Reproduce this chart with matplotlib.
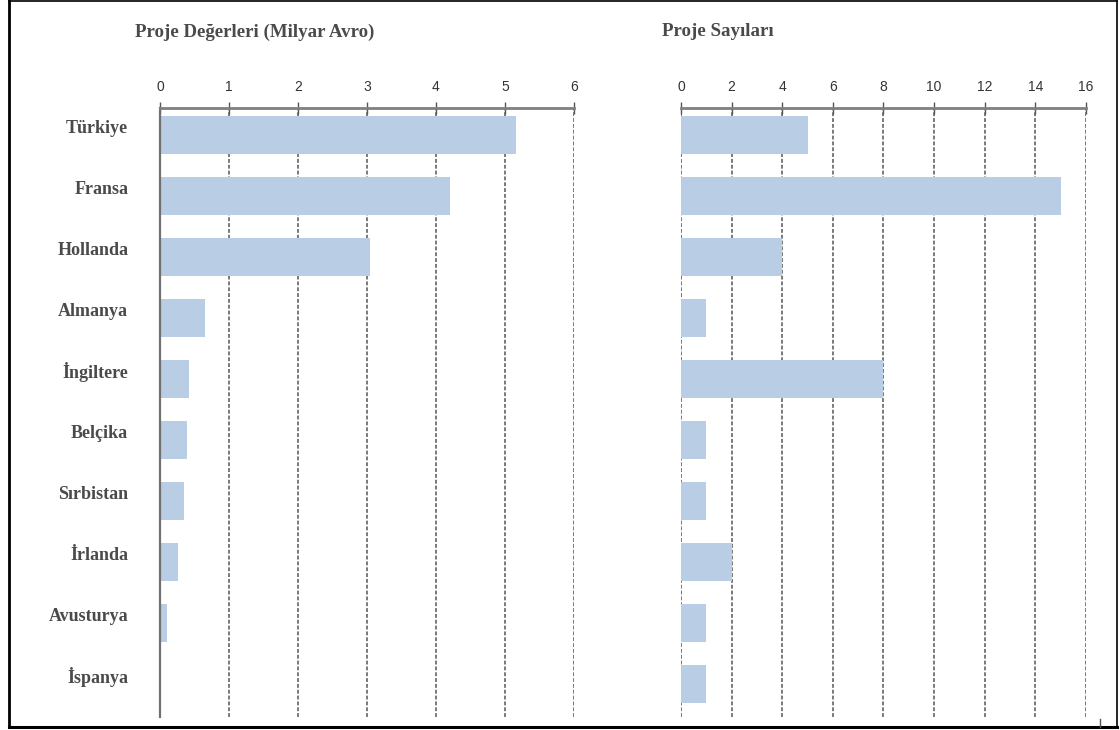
import matplotlib.pyplot as plt
import numpy as np

countries = ["Türkiye", "Fransa", "Hollanda", "Almanya", "İngiltere",
             "Belçika", "Sırbistan", "İrlanda", "Avusturya", "İspanya"]
values_bn_eur = [5.16, 4.20, 3.04, 0.65, 0.42, 0.39, 0.35, 0.26, 0.10, 0.0]
project_counts = [5, 15, 4, 1, 8, 1, 1, 2, 1, 1]

value_ticks = [0, 1, 2, 3, 4, 5, 6]
count_ticks = [0, 2, 4, 6, 8, 10, 12, 14, 16]

BAR = "#b9cde5"
GRID = "#7a7a7a"
TEXT = "#4a4a4a"
serif = ["Liberation Serif", "DejaVu Serif"]
narrow = ["Liberation Sans Narrow", "Liberation Sans", "DejaVu Sans"]

fig = plt.figure(figsize=(11.2, 7.3), dpi=100)

ax1 = fig.add_axes([160 / 1120, 1 - 717 / 730, 414 / 1120, 609 / 730])
ax2 = fig.add_axes([681 / 1120, 1 - 717 / 730, 405 / 1120, 609 / 730])

y = np.arange(len(countries))


def style_panel(ax, vals, ticks, solid_left):
    ax.barh(y, vals, height=0.62, color=BAR, zorder=2)
    ax.set_xlim(ticks[0], ticks[-1])
    ax.set_ylim(9.54, -0.44)
    ax.xaxis.tick_top()
    ax.set_xticks(ticks)
    ax.set_xticklabels([str(t) for t in ticks], family=narrow,
                       fontsize=10, color="#333333")
    ax.tick_params(axis="x", direction="inout", length=8, width=1,
                   color="#555555", pad=6)
    ax.set_yticks([])
    for t in ticks[1:] if solid_left else ticks:
        ax.axvline(t, color=GRID, lw=1.4, ls=(0, (2, 1)), zorder=1)
    for side in ("right", "bottom"):
        ax.spines[side].set_visible(False)
    ax.spines["top"].set_color("#808080")
    ax.spines["top"].set_linewidth(2)
    if solid_left:
        ax.spines["left"].set_color("#707070")
        ax.spines["left"].set_linewidth(1.6)
    else:
        ax.spines["left"].set_visible(False)
    ax.set_facecolor("none")


style_panel(ax1, values_bn_eur, value_ticks, True)
style_panel(ax2, project_counts, count_ticks, False)

# country names sit a little above the bar centres
for i, name in enumerate(countries):
    ax1.text(-0.46, i - 0.11, name, ha="right", va="center", family=serif,
             fontweight="bold", fontsize=13, color=TEXT)

fig.text(135 / 1120, 1 - 32 / 730, "Proje Değerleri (Milyar Avro)",
         ha="left", va="center", family=serif, fontweight="bold",
         fontsize=13.6, color=TEXT)
fig.text(662 / 1120, 1 - 32 / 730, "Proje Sayıları",
         ha="left", va="center", family=serif, fontweight="bold",
         fontsize=13.6, color=TEXT)

# outer frame
fig.add_artist(plt.Line2D([9 / 1120, 9 / 1120], [1 - 727 / 730, 1 - 1 / 730],
                          color="black", lw=2, transform=fig.transFigure))
fig.add_artist(plt.Line2D([9 / 1120, 1117 / 1120], [1 - 1 / 730, 1 - 1 / 730],
                          color="black", lw=1.2, transform=fig.transFigure))
fig.add_artist(plt.Line2D([1117 / 1120, 1117 / 1120], [1 - 727 / 730, 1 - 1 / 730],
                          color="black", lw=1.2, transform=fig.transFigure))
fig.add_artist(plt.Line2D([9 / 1120, 1117 / 1120], [1 - 727 / 730, 1 - 727 / 730],
                          color="black", lw=2.2, transform=fig.transFigure))
fig.add_artist(plt.Line2D([1100 / 1120, 1100 / 1120], [1 - 727 / 730, 1 - 719 / 730],
                          color="#555555", lw=1, transform=fig.transFigure))

fig.savefig("out.png", dpi=100, facecolor="white")
